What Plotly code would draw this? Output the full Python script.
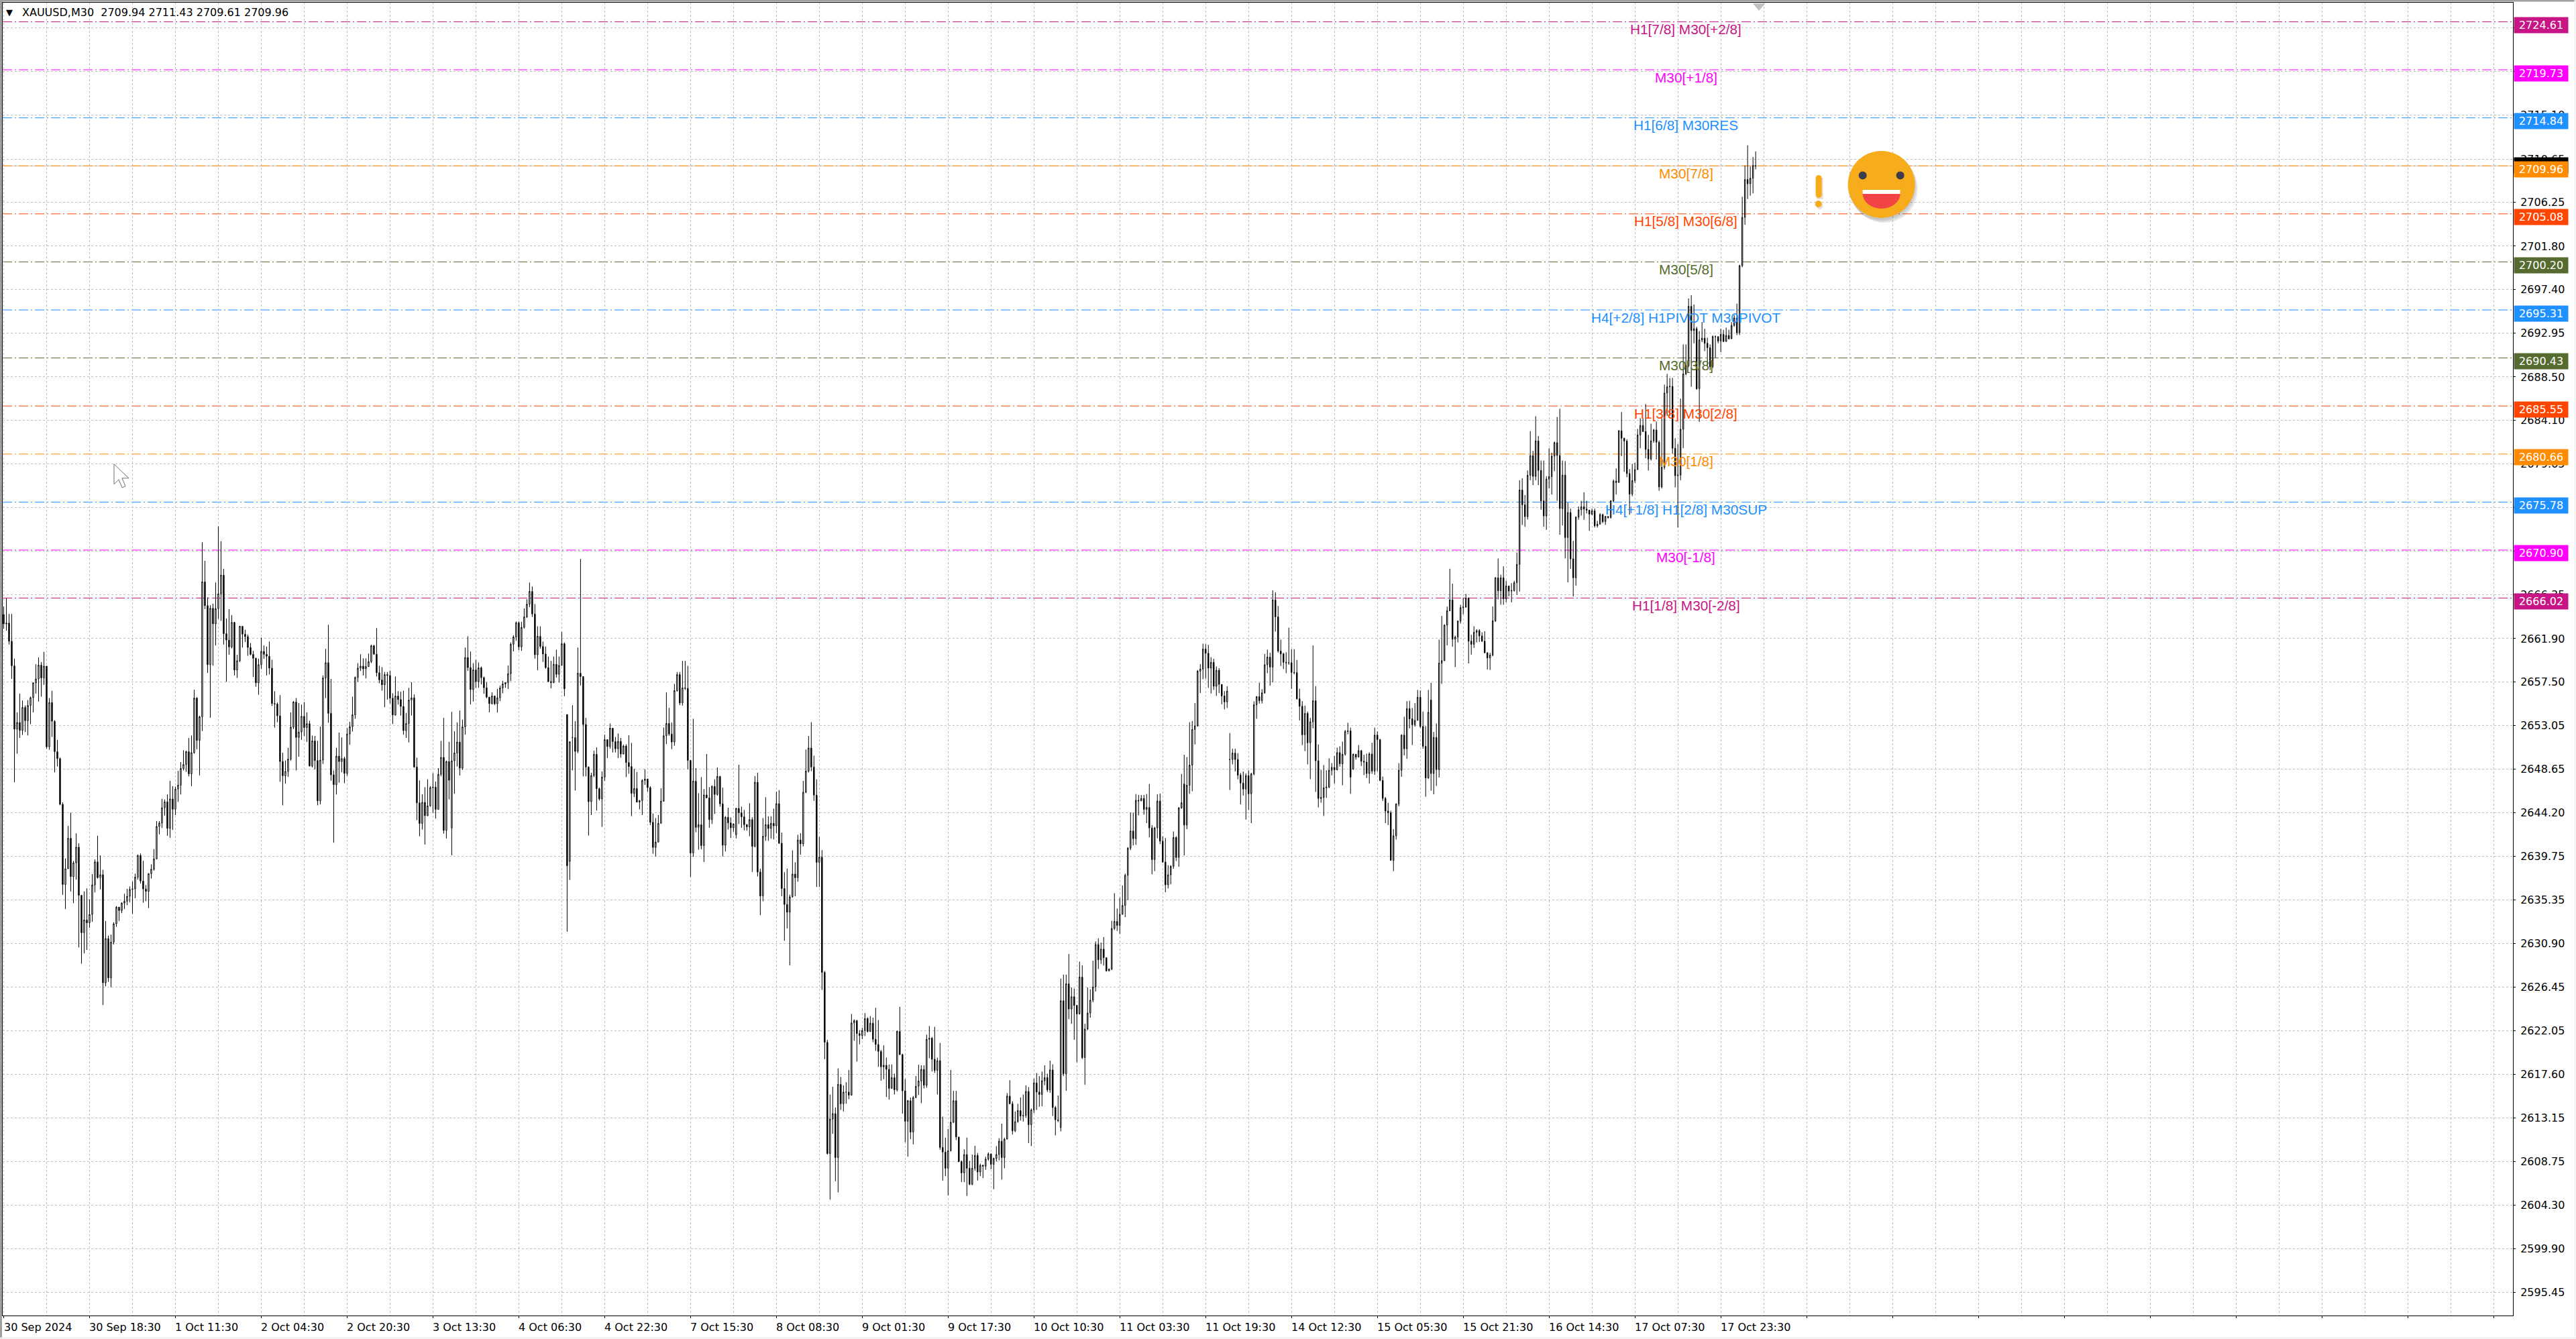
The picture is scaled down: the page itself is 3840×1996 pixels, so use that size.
import plotly.graph_objects as go

closes = [
2663.39,2663.48,2661.64,2659.13,2652.68,2653.37,2652.57,2654.9,2653.55,2655.1,
2655.9,2657.4,2657.8,2659.2,2657.9,2659.1,2650.9,2655.4,2653.5,2650.4,
2649.7,2645.05,2636.9,2638.5,2641.6,2637.7,2639.1,2640.7,2635.8,2632,
2633.3,2633,2633.85,2636.85,2639.2,2637.6,2637.9,2626.9,2631.4,2627.4,
2631.05,2632.9,2634.6,2634.25,2635,2635.2,2635.7,2636.4,2636.45,2637.65,
2639.85,2637.25,2636.45,2636.2,2638,2638.45,2639.5,2642.8,2643.15,2644.7,
2645.3,2642.6,2645.6,2644.55,2646.6,2647,2648.7,2649.1,2650.4,2648.15,
2650.3,2655.85,2651.55,2653.95,2667.67,2665.25,2659.25,2664.98,2663.4,2664.95,
2666.45,2668.35,2662.4,2661.75,2661.05,2663.55,2658.7,2659.65,2663.15,2662.35,
2662.1,2661,2660.3,2659.9,2657.4,2659.25,2660.6,2660.3,2660.1,2658.9,
2655.3,2655.25,2654.05,2649.4,2647.95,2648.4,2649.65,2652.9,2655.45,2651.85,
2652.4,2654,2652.85,2653.25,2648.95,2651.5,2649.5,2645.4,2649.55,2657.9,
2659.45,2654.3,2648.05,2647.05,2649.95,2649.4,2649.7,2648.2,2652.2,2652.95,
2654.15,2657.95,2658.9,2659.1,2658.83,2659.06,2659.56,2661.17,2660.31,2658.43,
2657.7,2657.2,2658.24,2658.15,2655.84,2654.13,2656.06,2655.7,2655,2652.54,
2653.27,2655.65,2655.88,2648.84,2645.2,2643.1,2645.25,2643.9,2644.9,2646.75,
2646.8,2644.53,2648.1,2649.82,2642.4,2649.4,2647.5,2649.48,2650.27,2651.38,
2648.73,2652.93,2659.97,2658.95,2656.72,2658.72,2657.52,2658.93,2657.93,2656.9,
2655.95,2655.29,2656.06,2655.27,2655.88,2656.88,2657.29,2657.43,2658.33,2661.33,
2662.06,2663.51,2661.06,2663.04,2664.1,2665.4,2666.7,2664.4,2660.26,2662.13,
2661.1,2660.33,2658.95,2657.54,2657.43,2659.29,2658.27,2659.17,2661.38,2656.79,
2638.8,2651.41,2651.84,2650.43,2658.38,2658.04,2653.16,2648.84,2645.32,2647.98,
2650.14,2646.64,2645.6,2647.82,2651.63,2650.93,2652.79,2651.43,2650.7,2651.45,
2650.16,2650.98,2649.3,2648.89,2646.16,2646.66,2645.28,2645.44,2647.48,2647.62,
2646.75,2643.23,2640.67,2641.21,2643.12,2645.37,2652.02,2653.27,2652.2,2651.38,
2656.61,2658.24,2655.36,2656.88,2656.84,2649.52,2640.1,2647.41,2642.71,2642.98,
2640.85,2646,2645.71,2643.5,2646.87,2646.05,2647.89,2645.1,2640.89,2643.73,
2643.16,2642.66,2643.05,2644.64,2644.19,2643.78,2642.98,2642.76,2643.5,2640.78,
2647.3,2638.17,2635.74,2641.8,2642.99,2642.59,2643.12,2642.87,2645.12,2641.09,
2636.49,2634.87,2634.08,2635.65,2637.96,2637.59,2641.43,2641.03,2646.28,2648.43,
2650.78,2648.84,2645.99,2639.15,2639.68,2627.96,2620.86,2609.55,2613.05,2613.61,
2609.14,2616.58,2614.61,2615.8,2615.8,2615.48,2622.83,2623.05,2621.74,2621.55,
2622.05,2623.27,2621.96,2622.8,2621.17,2620.64,2619.93,2618.36,2618.52,2618.11,
2616.17,2617.27,2616.02,2621.96,2619.61,2615.92,2612.83,2614.92,2611.73,2615.24,
2616.39,2616.92,2618.11,2616.49,2621.17,2621.27,2619.14,2617.99,2618.99,2610.17,
2609.7,2608.05,2609.83,2612.73,2614.92,2611.23,2608.73,2607.58,2609.45,2608.05,
2606.42,2608.05,2609.36,2607.67,2608.36,2608.26,2608.98,2609.51,2608.45,2609.05,
2609.45,2610.8,2609.14,2611.01,2615.39,2614.61,2611.86,2612.8,2613.92,2613.36,
2613.42,2615.86,2612.48,2613.98,2616.73,2615.8,2615.55,2616.95,2617.27,2616.02,
2618.05,2614.23,2612.98,2612.89,2625.08,2617.67,2626.8,2624.24,2625.49,2624.61,
2623.74,2627.49,2619.3,2622.21,2623.83,2625.14,2626.49,2630.8,2629.24,2630.33,
2629.46,2628.11,2628.3,2632.43,2633.15,2632.74,2633.87,2634.77,2637.84,2640.6,
2642.34,2641.56,2645.46,2645.4,2645.65,2644.53,2644.73,2642.65,2639.43,2642.65,
2645.39,2641.31,2639.19,2636.87,2637.89,2638.75,2641.68,2639.65,2644.68,2645.21,
2642.94,2646.99,2649.04,2652.66,2653.02,2658.59,2658.8,2660.83,2660.41,2658.9,
2659.49,2657.05,2658.68,2657.24,2656.07,2655.46,2656.56,2649.61,2650.26,2649.61,
2648.02,2647.21,2646.6,2647.97,2646.12,2648.14,2655.17,2656,2655.58,2656.39,
2659.24,2660.02,2659,2665.83,2664.12,2660.63,2660.34,2659.49,2659.44,2659.44,
2658.46,2658.44,2655.78,2655.02,2652.12,2654.29,2651.31,2653.44,2655.58,2649.48,
2645.65,2645.75,2646.73,2646.8,2648.51,2648.8,2648.56,2650.31,2649.17,2650.14,
2652.46,2652.51,2647.82,2650.14,2649.85,2650.51,2649.43,2649.34,2648.19,2650.17,
2648.43,2652.09,2651.63,2647.48,2645.65,2644.36,2644.19,2639.36,2641.85,2645.09,
2648.51,2652.09,2650.7,2654.78,2653.75,2653.14,2653.58,2655.93,2652.97,2650.95,
2647.73,2654.41,2648.19,2651.85,2648.58,2659.41,2659.66,2663.27,2664.73,2665.83,
2661.85,2662.05,2663.68,2665.05,2665.1,2666.03,2661.64,2661.32,2662.54,2662.71,
2662.17,2661.64,2660.46,2659.93,2660.22,2663.71,2668.08,2666.76,2668.08,2665.95,
2667.25,2666.73,2666.78,2667.59,2669.44,2677,2675.5,2674.3,2678.5,2680.5,
2678.4,2682,2679,2675.9,2674.37,2678.12,2678.37,2680.45,2681.82,2680.52,
2675.12,2678.52,2672.17,2674.71,2670.01,2668.08,2674.25,2675,2675.3,2675.07,
2674.96,2674.55,2674.89,2673.37,2673.53,2674.5,2673.8,2674.32,2674.21,2675.91,
2677.91,2677.77,2683.02,2682.27,2681.98,2678.68,2676.59,2677.96,2679.09,2682.61,
2683.57,2682.95,2681.14,2680.16,2682,2683.11,2681.86,2677.32,2679.32,2686.86,
2687.5,2687.54,2681.25,2678.46,2678.52,2683.18,2688.81,2689.65,2695.68,2693.22,
2693.4,2687.31,2692.26,2692.44,2691.92,2691.47,2689.54,2692.6,2692.6,2692.15,
2692.83,2692.1,2692.72,2692.38,2693.74,2694.5,2692.99,2699.82,2704.73,2708.57,
2708.14,2708.7,2710,2709.96]

highs = [
2665.17,2666,2664.4,2664.4,2659.86,2654.4,2656.3,2655.6,2655.1,2655.65,
2656,2657.45,2659.3,2660,2659.5,2660.55,2659.1,2655.85,2656.6,2653.6,
2651.6,2649.8,2645.25,2639.55,2642.85,2644.2,2639.3,2642.1,2641.1,2635.7,
2636.2,2636.5,2635.4,2637.95,2639.45,2641.85,2639.85,2638.4,2633.2,2631.7,
2631.8,2633.05,2634.7,2634.55,2635.1,2635.95,2636.45,2636.7,2637.2,2638,
2639.95,2640.05,2639.3,2636.85,2638.05,2638.95,2640.5,2643.35,2643.35,2645.6,
2645.55,2646.05,2647.45,2646.9,2646.85,2648.45,2649.35,2650.55,2650.5,2651.8,
2652.05,2656.7,2655.95,2654.05,2671.7,2669.8,2666.1,2665.3,2665.45,2667.6,
2673.3,2671.8,2669,2663.95,2664.9,2664.3,2663.6,2660.25,2663.2,2662.6,
2662.8,2662.3,2661.45,2660.65,2659.95,2659.85,2662,2661.2,2661.1,2661.6,
2659.75,2656.55,2655.4,2656.15,2650.3,2649.5,2650.8,2654.4,2655.55,2655.85,
2655.35,2655.2,2655.45,2654.4,2653.55,2652.05,2652,2651.5,2652.95,2658.15,
2660.85,2663.3,2657.8,2648.5,2650.8,2652.35,2651.85,2649.9,2652.8,2653.45,
2656,2658.05,2659.4,2660.3,2659.9,2659.9,2660.38,2661.29,2661.27,2662.97,
2659.13,2659,2658.5,2658.5,2658.65,2656.34,2658.04,2656.56,2656.5,2656.6,
2654.34,2656.9,2657.47,2656.22,2649.8,2647.48,2646.07,2646.8,2647.6,2646.9,
2648.2,2647.37,2648.73,2651.5,2653.84,2649.5,2651.4,2654.45,2652.48,2653.38,
2654.59,2653.66,2660.99,2662.13,2660.58,2659.4,2659.74,2659.47,2659.06,2658.04,
2657.47,2655.93,2656.45,2656.11,2656.79,2657.13,2657.59,2657.47,2659.17,2661.51,
2662.24,2663.65,2663.65,2663.6,2664.97,2665.9,2667.6,2667.2,2665.42,2663.15,
2663.15,2661.6,2661.1,2660.08,2659.63,2660.08,2660.77,2660.08,2662.58,2661.51,
2654.18,2651.45,2655.13,2653.5,2660.99,2670,2658.04,2653.84,2648.9,2648.27,
2650.5,2650.84,2646.75,2648.39,2652.13,2651.63,2653.27,2652.2,2651.9,2652.25,
2651.8,2651.11,2651.16,2652.07,2651.3,2648.66,2648.34,2645.48,2647.6,2648.62,
2647.66,2646.89,2644.12,2643.66,2643.96,2646.68,2652.86,2656.43,2654.86,2653.38,
2657.29,2658.5,2658.5,2659.63,2659.63,2659.13,2649.48,2653.75,2648.73,2646.18,
2647.82,2646.6,2650.16,2646.8,2646.98,2647.6,2648.8,2647.93,2646.75,2643.85,
2644.71,2643.73,2643.12,2644.69,2649.07,2644.82,2644.48,2643.05,2645.16,2643.73,
2647.93,2648.27,2638.5,2643.66,2645.78,2643.84,2643.84,2644.62,2646.34,2646.5,
2642.18,2638.15,2638.52,2635.87,2640.37,2639.15,2641.96,2642.12,2647.43,2650.62,
2652,2653.4,2650,2647.59,2641.74,2640.4,2628.11,2621.11,2615.55,2616.33,
2614.23,2618.2,2617.33,2616.48,2616.8,2618.05,2623.74,2623.2,2623.15,2622.1,
2622.33,2623.83,2623.4,2623.52,2623.36,2624.36,2623.11,2620.08,2620.55,2619.3,
2618.6,2618.61,2617.67,2622.05,2624.46,2619.7,2617.11,2615,2615.24,2615.4,
2617.43,2618.58,2618.52,2618.52,2621.64,2622.52,2621.4,2622.43,2619.3,2620.8,
2613.3,2611.17,2612.05,2618.05,2615.92,2615.92,2611.1,2608.85,2609.98,2611.17,
2608.8,2609.45,2610.33,2609.6,2608.52,2608.42,2609.23,2609.66,2609.55,2609.14,
2610.3,2611.11,2612.58,2611.17,2615.7,2617,2614.86,2613.83,2614.61,2615.24,
2615.55,2616.48,2616.3,2614.14,2617.17,2617.74,2617.43,2617.89,2618.52,2617.67,
2618.99,2618.61,2614.38,2615.45,2627.33,2627.74,2627.74,2629.83,2626.43,2626.33,
2624.67,2629.05,2628.68,2622.74,2626.43,2626.24,2629.15,2631.12,2631.43,2631,
2631.55,2629.08,2628.36,2633.21,2636.02,2634.46,2635.55,2636.81,2638,2640.7,
2644.21,2644.21,2646.09,2646,2646,2646,2646.1,2647.12,2642.94,2642.77,
2646.07,2646.14,2641.8,2641.63,2638.87,2638.87,2642.29,2641.8,2644.78,2648.14,
2650.09,2649.85,2653.39,2653.51,2655.34,2658.71,2659.32,2661.39,2661.32,2661.27,
2660.02,2659.85,2659.07,2658.9,2657.16,2656.56,2657.05,2652.29,2650.7,2650.7,
2650.26,2648.24,2648.39,2648.2,2648.51,2648.26,2655.53,2656.05,2657.41,2656.76,
2660.34,2660.78,2660.46,2666.81,2666.61,2665.22,2661.8,2660.46,2660.51,2663.02,
2660.83,2660.83,2659.73,2656.8,2655.54,2655.09,2654.48,2653.83,2661.2,2657.05,
2651.14,2648.56,2649.04,2648.51,2649.73,2649.24,2649.97,2650.82,2650.95,2651.44,
2652.61,2653.34,2652.85,2650.22,2650.17,2651.07,2650.58,2650.09,2650.2,2650.34,
2651.31,2652.85,2652.46,2651.7,2647.87,2645.8,2645.2,2644.4,2642.53,2645.14,
2649.24,2652.16,2653.95,2655.54,2655.58,2654.85,2655.34,2656.68,2656.63,2654.48,
2653,2656.68,2657.41,2652.41,2653.26,2661.8,2664.2,2663.34,2665.15,2669,
2667.49,2662.2,2663.75,2665.34,2666.08,2666.44,2666.08,2662.3,2663.15,2662.85,
2662.85,2662.54,2662.65,2660.5,2660.46,2665.17,2668.15,2670.05,2668.4,2669.25,
2667.78,2667.25,2667.54,2667.78,2670.66,2678,2678.2,2676.5,2679,2683,
2681,2684.5,2682.5,2680,2680,2678.41,2681.25,2680.8,2681.93,2684.43,
2685.27,2680,2679.95,2675.73,2675.12,2671.83,2674.32,2675.34,2675.91,2676.78,
2675.91,2675,2675.12,2675.12,2673.87,2674.66,2674.6,2674.37,2674.32,2675.96,
2678.07,2679.2,2683.11,2684.93,2682.32,2682.16,2679.14,2679.66,2679.77,2683.22,
2684.3,2684.3,2685.74,2682.61,2683.75,2683.22,2683.97,2682.04,2684.31,2687.72,
2688.81,2688.4,2688.4,2682.27,2681.7,2686.31,2691.81,2691.81,2696.48,2696.82,
2695.86,2693.6,2693.17,2694.08,2693.4,2692.5,2691.81,2692.72,2692.7,2692.6,
2693.4,2693.29,2693.51,2693.3,2694.08,2694.8,2695.95,2699.9,2706.82,2710,
2712.05,2709.89,2710.86,2711.43]

lows = [
2662.9,2662.7,2661.3,2657.8,2647.3,2650.2,2651.8,2652.1,2652.4,2652.05,
2653.2,2654.4,2656.3,2655.5,2656,2657.2,2650.7,2650.6,2651.9,2648.3,
2648.9,2644.95,2635.85,2634.4,2638.5,2636.2,2635,2637.4,2630.5,2628.85,
2629.9,2630.25,2632.5,2633.1,2636.1,2637.5,2636.4,2624.65,2626.55,2627,
2626.45,2630.8,2632.6,2633.2,2634,2634.4,2634.8,2635.1,2633.9,2635.5,
2637.4,2637,2635.05,2635.2,2634.5,2637.5,2638.3,2639.55,2642,2642.65,
2643.9,2641.85,2641.65,2642.45,2643.95,2645.3,2646.05,2648.5,2648.35,2647.9,
2646.9,2650.2,2650.65,2648,2652.5,2664.9,2658.4,2653.85,2659.15,2661.2,
2663.9,2663.7,2661.3,2657.5,2660.25,2660.9,2658.15,2657.9,2659.5,2661,
2661.55,2660.15,2660.2,2658,2657,2656.2,2658.8,2659.85,2658.15,2658.25,
2655.05,2652.85,2653.4,2647.35,2644.95,2647.15,2647.85,2649.5,2652.7,2648.5,
2649.9,2651.6,2652,2651.4,2648.9,2648.8,2648.6,2644.95,2645.05,2649.15,
2655.85,2653.35,2647.45,2641.15,2646.05,2647.25,2648.3,2647.2,2647.95,2651.1,
2652.45,2653.75,2657.5,2658.6,2658.15,2657.85,2659.02,2659.4,2660.29,2658.04,
2657.36,2656.6,2654.93,2655.7,2655.3,2653.22,2654.07,2655.2,2654.07,2652.13,
2651.8,2651.34,2654.07,2648.77,2643.44,2641.8,2642.48,2640.96,2643.85,2644.8,
2644.2,2643.6,2644.53,2647.9,2642.07,2641.58,2645.55,2639.87,2646.12,2648.89,
2647.98,2648.55,2652.13,2658.6,2655.2,2655.5,2656.9,2656.9,2657.24,2656.29,
2655.84,2654.4,2655.2,2655.15,2654.38,2655.54,2656.34,2656.9,2656.79,2657.59,
2660.6,2661.67,2660.72,2660.65,2662.92,2664,2665.1,2664.1,2659.86,2658.68,
2660.88,2659.52,2658.83,2657.47,2656.84,2657.36,2657.93,2657.43,2659.17,2656.04,
2632.1,2637.37,2648.5,2646.46,2650.25,2657.13,2647.89,2647.89,2641.87,2643.96,
2647.82,2644.41,2645.44,2642.76,2647.43,2649.75,2650.7,2650.32,2650.32,2649.75,
2649.8,2650.2,2647.82,2648.16,2643.85,2645.78,2645.25,2644.53,2643.96,2647.02,
2646.34,2642.94,2640.03,2639.76,2642.03,2643.16,2645.32,2651.16,2652.02,2650.66,
2651,2656.5,2655.13,2655.09,2656.68,2648.61,2637.67,2639.71,2642.21,2640.44,
2640.48,2639.19,2645.66,2642.66,2643.05,2644.07,2645.93,2644.8,2639.76,2640.26,
2642.48,2641.64,2642.26,2641.58,2643.05,2642.66,2642.41,2642.37,2641.8,2638.17,
2640.67,2637.71,2633.78,2635.2,2641.34,2641.34,2641.56,2641.49,2642.12,2641.03,
2635.7,2631.18,2632.43,2628.68,2635.56,2635.71,2637.18,2639.93,2640.77,2646.18,
2648.28,2648.43,2645.4,2636.65,2636.65,2626.18,2619.14,2609.45,2604.86,2611.55,
2606.73,2605.6,2613.98,2613.83,2614.61,2615.08,2615.48,2621.02,2618.89,2620.65,
2621.18,2621.49,2621.85,2621.9,2620.86,2619.99,2618.36,2616.95,2617.11,2615.3,
2615.02,2616.17,2615.55,2615.86,2619.55,2613.61,2610.7,2609.23,2611.01,2610.48,
2615.17,2615.49,2614.67,2616.17,2616.23,2619.24,2617.89,2617.74,2615.55,2609.92,
2606.8,2607.26,2605.3,2609.76,2612.65,2610.92,2608.67,2606.64,2606.64,2605.23,
2606.33,2606.33,2607.8,2606.8,2607.26,2607.04,2607.89,2608.82,2607.95,2605.92,
2608.73,2608.86,2606.89,2608.05,2611.01,2614.55,2611.48,2611.73,2612.68,2612.9,
2612.8,2613.2,2610.61,2610.3,2613.65,2613.98,2614.3,2614.36,2616.5,2615.8,
2615.72,2613.36,2611.39,2612.74,2611.8,2617.42,2615.92,2623.21,2622.74,2621.11,
2618.83,2623.68,2619.14,2616.55,2622.1,2623.36,2624.93,2626.02,2628.3,2628.83,
2628.65,2628.05,2628.12,2628.2,2632.27,2632.18,2631.87,2633.84,2633.58,2635.3,
2640.4,2640.87,2640.93,2643.93,2645.4,2644,2643.14,2641.68,2637.94,2638.26,
2641.6,2641.0,2639.1,2636.11,2636.5,2636.92,2638.5,2639.28,2638.7,2644.6,
2639.85,2642.53,2646.12,2646.38,2651.14,2652.95,2656.36,2657.78,2657.83,2656.9,
2656.32,2656.68,2656.07,2656.36,2655.22,2654.71,2654.85,2646.51,2649.12,2648.39,
2647.6,2645.04,2645.95,2643.5,2644.48,2643.14,2648,2653.75,2655.29,2655.3,
2656.3,2658.39,2657.12,2657.46,2662.61,2660.46,2659.12,2658.8,2658.39,2659.24,
2656.8,2658.27,2655.7,2653.58,2651.07,2650.46,2649.12,2647.61,2652.78,2646.31,
2644.73,2645.21,2643.87,2645.7,2646.7,2648,2647.17,2648.5,2648.88,2646.99,
2650,2652.16,2646.12,2648.56,2649.6,2649.97,2648.95,2648.02,2647.73,2647.17,
2648.15,2648.05,2648.4,2647.41,2645.38,2643.14,2642.94,2639.31,2638.26,2641.48,
2644.85,2647.85,2650.02,2649.68,2652.78,2651.07,2652.95,2653.63,2652.82,2650.7,
2645.82,2647.65,2646.43,2646.07,2646.92,2647.78,2657.29,2659.61,2661.2,2664.68,
2661.07,2659,2661.51,2663.44,2664.37,2665.05,2659.37,2660.27,2660.95,2661.51,
2661.56,2661.56,2660.41,2658.76,2658.71,2660.1,2663.6,2665.88,2665.34,2665.34,
2665.59,2666.2,2665.59,2666.68,2666.37,2666.68,2673.45,2673.27,2674,2678,
2677.5,2678,2677.5,2675,2673.27,2672.96,2677.16,2676.55,2678.91,2675.91,
2672.46,2673.41,2670.05,2667.62,2668.99,2666.19,2667.28,2673.98,2674.4,2673.98,
2674.62,2672.85,2674.44,2673.19,2673.19,2673.53,2673.64,2673.46,2674.1,2674.1,
2675.8,2676.55,2677.84,2680.45,2678.86,2678.3,2674.5,2676.37,2677.73,2679.05,
2681.25,2682.9,2680.23,2678.98,2680,2681.8,2680.11,2676.93,2677.16,2679.09,
2684.54,2684.54,2680.68,2677.27,2673.19,2678,2681.25,2688.67,2689.5,2687.5,
2691.92,2687.2,2683.93,2692.04,2691.13,2689.65,2689.2,2689.42,2690.45,2691.92,
2691.01,2692.04,2692.31,2692.31,2692.38,2693.6,2692.76,2692.76,2699.66,2703.98,
2706.59,2706.93,2707.16,2709.61]

# candles open at the previous close unless the picture shows a gap
open_gaps = {0:2664.35,167:2642.64,210:2654.18,211:2639.24,212:2651.84,273:2641.96,394:2612.2,
             440:2647.12,457:2649.61,503:2648.63,532:2655.66,653:2709.94}

y_ticks = [2724.00,2719.55,2715.10,2710.65,2706.25,2701.80,2697.40,2692.95,2688.50,2684.10,
           2679.65,2675.25,2670.80,2666.35,2661.90,2657.50,2653.05,2648.65,2644.20,2639.75,
           2635.35,2630.90,2626.45,2622.05,2617.60,2613.15,2608.75,2604.30,2599.90,2595.45]

time_labels = ["30 Sep 2024","30 Sep 18:30","1 Oct 11:30","2 Oct 04:30","2 Oct 20:30","3 Oct 13:30",
               "4 Oct 06:30","4 Oct 22:30","7 Oct 15:30","8 Oct 08:30","9 Oct 01:30","9 Oct 17:30",
               "10 Oct 10:30","11 Oct 03:30","11 Oct 19:30","14 Oct 12:30","15 Oct 05:30","15 Oct 21:30",
               "16 Oct 14:30","17 Oct 07:30","17 Oct 23:30"]

level_values = [2724.61,2719.73,2714.84,2709.96,2705.08,2700.20,2695.31,2690.43,2685.55,2680.66,2675.78,2670.90,2666.02]
level_names = ["H1[7/8] M30[+2/8]","M30[+1/8]","H1[6/8] M30RES","M30[7/8]","H1[5/8] M30[6/8]","M30[5/8]",
               "H4[+2/8] H1PIVOT M30PIVOT","M30[3/8]","H1[3/8] M30[2/8]","M30[1/8]",
               "H4[+1/8] H1[2/8] M30SUP","M30[-1/8]","H1[1/8] M30[-2/8]"]
level_colors = ["#C71585","#FF00FF","#1E90FF","#FF8C00","#FF4500","#556B2F","#1E90FF","#556B2F",
                "#FF4500","#FF8C00","#1E90FF","#FF00FF","#C71585"]

W, H = 3840, 1996
L, R, T, B = 4, 3746.5, 4, 1961.5
BAR_PX = 4.0
FIRST_BAR_PX = 5.5
def px(x): return (x - L) / (R - L)
def py(y): return 1 - (y - T) / (B - T)

n = len(closes)
idx = list(range(n))
opens = [open_gaps.get(i, closes[i-1] if i else closes[0]) for i in idx]
hi = [max(h, o, c) for h, o, c in zip(highs, opens, closes)]
lo = [min(l, o, c) for l, o, c in zip(lows, opens, closes)]

fig = go.Figure(go.Candlestick(
    x=idx, open=opens, high=hi, low=lo, close=closes,
    whiskerwidth=0, hoverinfo="skip", showlegend=False,
    increasing=dict(line=dict(color="#000000", width=1), fillcolor="#ffffff"),
    decreasing=dict(line=dict(color="#000000", width=1), fillcolor="#000000"),
))

shapes = []
# bid line under the level lines
shapes.append(dict(type="line", xref="paper", x0=0, x1=1, yref="y", y0=closes[-1], y1=closes[-1],
                   line=dict(color="#C0C0C0", width=1), layer="below"))
for v, c in zip(level_values, level_colors):
    shapes.append(dict(type="line", xref="paper", x0=0, x1=1, yref="y", y0=v, y1=v,
                       line=dict(color=c, width=1, dash="14px,4px,2px,4px"), layer="below"))

def rect(x0, y0, x1, y1, fill, op=1):
    return dict(type="rect", xref="paper", yref="paper", x0=px(x0), x1=px(x1), y0=py(y1), y1=py(y0),
                fillcolor=fill, opacity=op, line=dict(width=0), layer="above")
def oval(x0, y0, x1, y1, fill, op=1):
    d = rect(x0, y0, x1, y1, fill, op); d["type"] = "circle"; return d
def path(points, fill, line=None):
    s = "M " + " L ".join(f"{px(a):.6f},{py(b):.6f}" for a, b in points) + " Z"
    return dict(type="path", xref="paper", yref="paper", path=s, fillcolor=fill,
                line=dict(width=1 if line else 0, color=line or fill), layer="above")

# window chrome
shapes += [rect(0, 0, 3840, 2.5, "#a0a0a0"), rect(0, 0, 3, 1996, "#a0a0a0"),
           rect(3838, 0, 3840, 1996, "#f0f0f0"), rect(0, 1994, 3840, 1996, "#f0f0f0")]
# chart-shift marker
shapes.append(path([(2613, 5), (2632, 5), (2622.5, 16)], "#C0C0C0"))
# mouse pointer
shapes.append(path([(170, 692), (170, 722), (177, 715), (182, 727), (187, 725), (182, 713), (192, 713)], "#ffffff", "#707070"))
# smiley with exclamation mark
for g, op in ((0, .10), (2, .12), (4, .14)):
    shapes.append(oval(2755+g, 227+g, 2855+g, 327+g+1, "#505050", op))
shapes.append(oval(2755, 225, 2855, 325, "#F6AC1B"))
shapes.append(oval(2777, 267, 2833, 311, "#F24444"))
shapes.append(rect(2770, 262, 2840, 283, "#F6AC1B"))
shapes.append(rect(2777, 283, 2833, 289, "#ffffff"))
shapes += [oval(2771, 255.5, 2783, 267.5, "#3D3D4B"), oval(2827, 255.5, 2839, 267.5, "#3D3D4B")]
shapes += [rect(2708, 265, 2718, 297, "#a08040", .25), oval(2708, 300, 2718, 312, "#a08040", .25)]
shapes += [rect(2707, 266, 2716, 290, "#F6AC1B"), oval(2707, 261, 2716, 270, "#F6AC1B"), oval(2707, 286, 2716, 295, "#F6AC1B"),
           oval(2706, 299, 2716, 309, "#F6AC1B")]

annotations = []
# left-aligned time labels beneath their ticks
for k, lab in enumerate(time_labels):
    annotations.append(dict(text=lab, x=k*32, xref="x", y=0, yref="paper", xanchor="left", yanchor="top",
                            xshift=-2, yshift=-6, showarrow=False, font=dict(family="DejaVu Sans", size=16, color="#000000")))
# level names
for v, name, c in zip(level_values, level_names, level_colors):
    annotations.append(dict(text=name, x=627, xref="x", y=v, yref="y", xanchor="center", yanchor="middle",
                            yshift=-11, showarrow=False, font=dict(family="Liberation Sans", size=20.8, color=c)))
# black current-price tag, then level tags
annotations.append(dict(text=f"{closes[-1]:.2f}", x=px(3748), xref="paper", xanchor="left", y=closes[-1], yref="y", yanchor="middle",
                        yshift=1, showarrow=False, width=80, height=23, borderpad=0, bgcolor="#000000",
                        font=dict(family="DejaVu Sans", size=16, color="#000000")))
for v, c in zip(level_values, level_colors):
    annotations.append(dict(text=f"{v:.2f}", x=px(3748), xref="paper", xanchor="left", y=v, yref="y", yanchor="middle",
                            yshift=-5, showarrow=False, width=80, height=23, borderpad=0, bgcolor=c,
                            font=dict(family="DejaVu Sans", size=16, color="#ffffff")))
# header
annotations.append(dict(text="▼", x=px(14), xref="paper", y=py(19), yref="paper", xanchor="center", yanchor="middle",
                        showarrow=False, font=dict(family="DejaVu Sans", size=13, color="#000000")))
annotations.append(dict(text="XAUUSD,M30  2709.94 2711.43 2709.61 2709.96", x=px(31), xref="paper", y=py(19), yref="paper",
                        xanchor="left", yanchor="middle", showarrow=False,
                        font=dict(family="DejaVu Sans", size=16, color="#000000")))

grid_major = list(range(0, 936, 32))
grid_minor = list(range(16, 936, 32))
fig.update_layout(
    width=W, height=H, autosize=False,
    margin=dict(l=L, r=W-R, t=T, b=H-B, pad=0),
    paper_bgcolor="#ffffff", plot_bgcolor="#ffffff",
    boxgap=0.5, showlegend=False,
    shapes=shapes, annotations=annotations,
    xaxis=dict(range=[(L-FIRST_BAR_PX)/BAR_PX, (R-FIRST_BAR_PX)/BAR_PX], rangeslider=dict(visible=False),
               tickvals=grid_major, ticktext=[""]*len(grid_major), ticks="outside", ticklen=3, tickcolor="#000000",
               showgrid=True, gridcolor="#C0C0C0", griddash="3px,3px", gridwidth=1, zeroline=False,
               minor=dict(tickvals=grid_minor, showgrid=True, gridcolor="#C0C0C0", griddash="3px,3px", gridwidth=1, ticks=""),
               showline=True, linecolor="#000000", linewidth=1, mirror=True),
    yaxis=dict(range=[2593.08, 2726.55], side="right", tickvals=y_ticks, ticktext=[f"{v:.2f}" for v in y_ticks],
               ticks="outside", ticklen=3, tickcolor="#000000", ticklabelstandoff=4,
               tickfont=dict(family="DejaVu Sans", size=16, color="#000000"),
               showgrid=True, gridcolor="#C0C0C0", griddash="3px,3px", gridwidth=1, zeroline=False,
               showline=True, linecolor="#000000", linewidth=1, mirror=True),
)
fig.write_html("out.html", config={"displayModeBar": False},
               post_script="document.body.style.margin='0';document.body.style.overflow='hidden';")
